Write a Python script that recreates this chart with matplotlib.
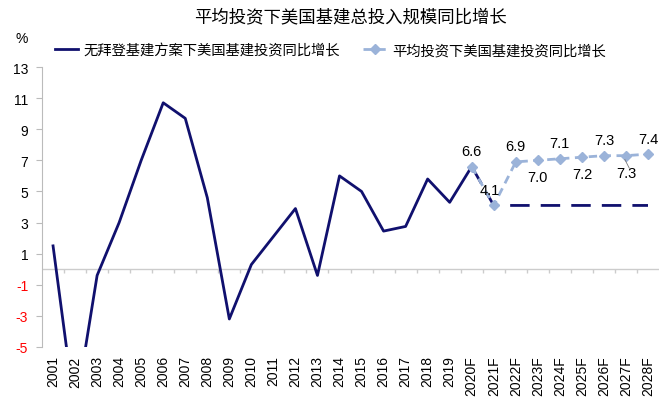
import numpy as np
import matplotlib
matplotlib.use('Agg')
import matplotlib.pyplot as plt

plt.rcParams['font.family'] = ['Liberation Sans', 'Noto Sans CJK SC', 'DejaVu Sans']

years = ['2001', '2002', '2003', '2004', '2005', '2006', '2007', '2008', '2009', '2010',
         '2011', '2012', '2013', '2014', '2015', '2016', '2017', '2018', '2019', '2020F',
         '2021F', '2022F', '2023F', '2024F', '2025F', '2026F', '2027F', '2028F']
# 无拜登基建方案 (actual + flat forecast)
base_hist = [1.5, -9.2, -0.4, 3.0, 7.0, 10.7, 9.7, 4.6, -3.2, 0.3,
             2.1, 3.9, -0.4, 6.0, 5.0, 2.45, 2.75, 5.8, 4.3, 6.6]
base_fcst = [6.6, 4.1, 4.1, 4.1, 4.1, 4.1, 4.1, 4.1, 4.1]
# 平均投资
avg_fcst = [6.6, 4.1, 6.9, 7.0, 7.1, 7.2, 7.3, 7.3, 7.4]
avg_labels = ['6.6', '4.1', '6.9', '7.0', '7.1', '7.2', '7.3', '7.3', '7.4']
label_below = [False, False, False, True, False, True, False, True, False]

dark = '#10106E'
light = '#9BB3D9'
cjk = ['Noto Sans CJK SC', 'DejaVu Sans']

fig = plt.figure(figsize=(6.65, 4.06), dpi=100)
ax = fig.add_axes([0.0632, 0.1429, 0.9278, 0.6896])

x = np.arange(len(years))
xh = x[:len(base_hist)]
xf = x[len(base_hist) - 1:]

ax.plot(xh, base_hist, color=dark, lw=2, label='无拜登基建方案下美国基建投资同比增长')
ax.plot(xf, base_fcst, color=dark, lw=2, ls=(0, (7, 4)))
ax.plot(xf, avg_fcst, color=light, lw=2, ls=(0, (3, 2)), marker='D', ms=5,
        label='平均投资下美国基建投资同比增长')

for xi, v, t, below in zip(xf, avg_fcst, avg_labels, label_below):
    if t == '4.1':
        ax.text(xi - 0.18, v + 0.55, t, ha='center', va='bottom', fontsize=10.5)
    elif below:
        ax.text(xi, v - 0.65, t, ha='center', va='top', fontsize=10.5)
    else:
        ax.text(xi, v + 0.55, t, ha='center', va='bottom', fontsize=10.5)
# leader line for the 2027F label
ax.plot([xf[-2] - 0.05, xf[-2] + 0.15], [avg_fcst[-2] - 0.25, avg_fcst[-2] - 0.8], color='#777777', lw=0.6)

ax.set_xlim(-0.5, len(years) - 0.5)
ax.set_ylim(-5, 13)
ax.set_yticks(np.arange(-5, 14, 2))
ax.set_yticklabels([str(v) for v in range(-5, 14, 2)], fontsize=10)
for lbl in ax.get_yticklabels():
    if lbl.get_text().startswith('-'):
        lbl.set_color('red')

ax.set_xticks(x)
ax.set_xticklabels(years, rotation=90, fontsize=10)
ax.tick_params(axis='x', length=0, pad=6)
ax.tick_params(axis='y', length=4, color='#BBBBBB', pad=6)

for s in ['top', 'right', 'bottom']:
    ax.spines[s].set_visible(False)
ax.spines['left'].set_color('#BBBBBB')

# zero line with category ticks
ax.axhline(0, color='#CCCCCC', lw=1, zorder=0)
ax.vlines(x[:-1] + 0.5, -0.25, 0, color='#CCCCCC', lw=1, zorder=0)

ax.set_title('平均投资下美国基建总投入规模同比增长', family=cjk, fontsize=12.5, pad=33)
fig.text(0.033, 0.905, '%', fontsize=10, ha='center', va='center')

leg = ax.legend(loc='lower left', bbox_to_anchor=(0.012, 1.015), ncol=2, frameon=False,
                prop={'family': cjk, 'size': 10.3}, handlelength=1.6, columnspacing=1.6,
                handletextpad=0.4, borderaxespad=0)

fig.savefig('out.png', dpi=100)
